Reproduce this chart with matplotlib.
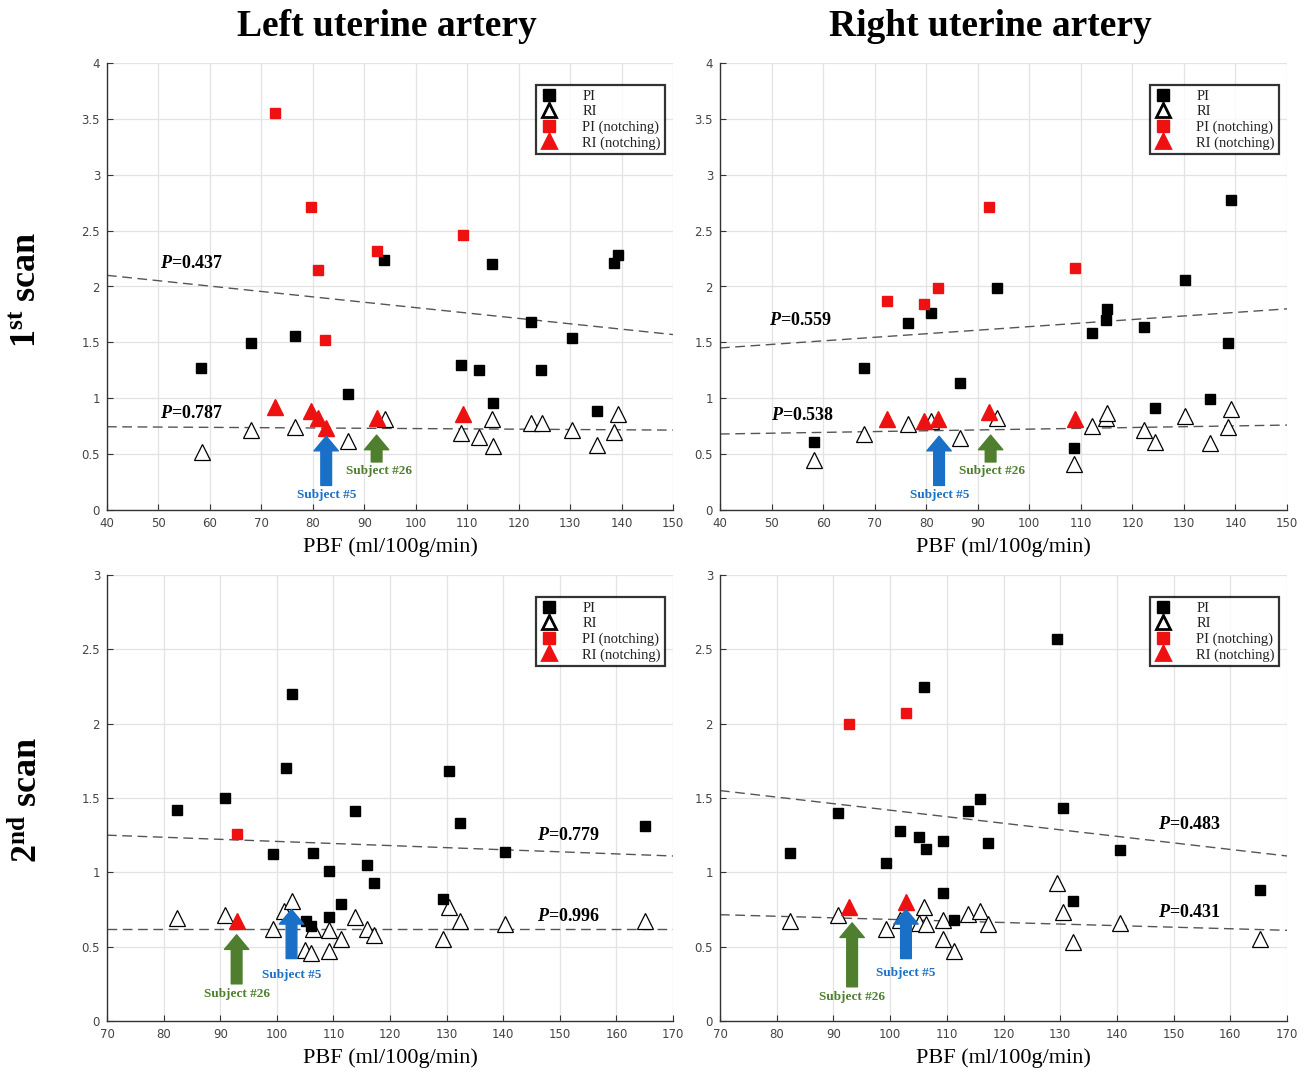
import numpy as np
import matplotlib

matplotlib.use("Agg")
import matplotlib.pyplot as plt

plt.rcParams["mathtext.fontset"] = "custom"
plt.rcParams["mathtext.it"] = "Liberation Serif:italic:bold"
plt.rcParams["mathtext.rm"] = "Liberation Serif:bold"

SERIF = "Liberation Serif"

# ── Data ─────────────────────────────────────────────────────────────────────

# 1st scan, left uterine artery
TL_PI_X = [58.3, 67.9, 76.6, 86.8, 93.8, 108.8, 112.3, 114.9, 115.1, 122.4, 124.4, 130.3, 135.2, 138.6, 139.4]
TL_PI_Y = [1.27, 1.49, 1.56, 1.04, 2.24, 1.30, 1.25, 2.20, 0.96, 1.68, 1.25, 1.54, 0.89, 2.21, 2.28]
TL_RI_X = [58.4, 67.9, 76.6, 86.8, 94.0, 108.8, 112.3, 114.9, 115.1, 122.4, 124.6, 130.3, 135.2, 138.6, 139.4]
TL_RI_Y = [0.52, 0.72, 0.74, 0.62, 0.81, 0.69, 0.65, 0.81, 0.57, 0.78, 0.78, 0.72, 0.58, 0.70, 0.86]
TL_PIN_X = [72.6, 79.6, 81.0, 82.4, 92.4, 109.1]
TL_PIN_Y = [3.55, 2.71, 2.15, 1.52, 2.32, 2.46]
TL_RIN_X = [72.6, 79.6, 81.0, 82.5, 92.4, 109.1]
TL_RIN_Y = [0.92, 0.89, 0.82, 0.73, 0.82, 0.86]
TL_PI_FIT = [2.10, 1.57]
TL_RI_FIT = [0.745, 0.715]
TL_P = ["0.437", "0.787"]

# 1st scan, right uterine artery
TR_PI_X = [58.2, 67.9, 76.5, 80.9, 86.6, 93.8, 108.7, 112.2, 114.8, 115.1, 122.3, 124.3, 130.2, 135.0, 138.6, 139.1]
TR_PI_Y = [0.61, 1.27, 1.67, 1.76, 1.14, 1.99, 0.555, 1.58, 1.70, 1.80, 1.64, 0.91, 2.06, 0.99, 1.49, 2.77]
TR_RI_X = [58.2, 67.9, 76.5, 80.9, 86.6, 93.8, 108.7, 112.2, 114.8, 115.1, 122.3, 124.3, 130.2, 135.0, 138.6, 139.1]
TR_RI_Y = [0.45, 0.68, 0.77, 0.80, 0.64, 0.82, 0.41, 0.75, 0.82, 0.87, 0.72, 0.61, 0.84, 0.60, 0.74, 0.90]
TR_PIN_X = [72.4, 79.5, 82.3, 92.1, 108.9]
TR_PIN_Y = [1.87, 1.84, 1.99, 2.71, 2.17]
TR_RIN_X = [72.4, 79.5, 82.3, 92.1, 108.9]
TR_RIN_Y = [0.81, 0.80, 0.81, 0.88, 0.81]
TR_PI_FIT = [1.45, 1.80]
TR_RI_FIT = [0.68, 0.76]
TR_P = ["0.559", "0.538"]

# 2nd scan, left uterine artery
BL_PI_X = [82.4, 90.8, 99.3, 101.7, 102.7, 105.2, 106.1, 106.4, 109.2, 109.2, 111.3, 113.8, 115.9, 117.1, 129.4, 130.5, 132.3, 140.4, 165.0]
BL_PI_Y = [1.42, 1.50, 1.12, 1.70, 2.20, 0.67, 0.64, 1.13, 1.01, 0.70, 0.79, 1.41, 1.05, 0.93, 0.82, 1.68, 1.33, 1.14, 1.31]
BL_RI_X = [82.4, 90.8, 99.3, 101.3, 102.7, 105.0, 106.0, 106.4, 109.2, 109.2, 111.3, 113.8, 115.9, 117.1, 129.4, 130.5, 132.3, 140.4, 165.0]
BL_RI_Y = [0.69, 0.71, 0.62, 0.74, 0.81, 0.48, 0.46, 0.62, 0.61, 0.47, 0.55, 0.70, 0.62, 0.58, 0.55, 0.77, 0.67, 0.65, 0.67]
BL_PIN_X = [92.9]
BL_PIN_Y = [1.26]
BL_RIN_X = [92.9]
BL_RIN_Y = [0.67]
BL_PI_FIT = [1.25, 1.11]
BL_RI_FIT = [0.62, 0.62]
BL_P = ["0.779", "0.996"]

# 2nd scan, right uterine artery
BR_PI_X = [82.4, 90.8, 99.3, 101.7, 105.1, 106.0, 106.4, 109.4, 109.4, 111.3, 113.8, 115.9, 117.2, 129.4, 130.5, 132.3, 140.5, 165.2]
BR_PI_Y = [1.13, 1.40, 1.06, 1.28, 1.24, 2.25, 1.16, 1.21, 0.86, 0.68, 1.41, 1.49, 1.20, 2.57, 1.43, 0.81, 1.15, 0.88]
BR_RI_X = [82.4, 90.8, 99.2, 101.7, 105.1, 106.0, 106.4, 109.3, 109.4, 111.3, 113.8, 115.9, 117.2, 129.4, 130.5, 132.3, 140.5, 165.2]
BR_RI_Y = [0.67, 0.71, 0.62, 0.68, 0.66, 0.77, 0.65, 0.55, 0.68, 0.47, 0.72, 0.74, 0.65, 0.93, 0.73, 0.53, 0.66, 0.55]
BR_PIN_X = [92.8, 102.8]
BR_PIN_Y = [2.00, 2.07]
BR_RIN_X = [92.8, 102.8]
BR_RIN_Y = [0.77, 0.80]
BR_PI_FIT = [1.55, 1.11]
BR_RI_FIT = [0.715, 0.61]
BR_P = ["0.483", "0.431"]

TOP_XLIM = (40, 150)
TOP_YLIM = (0, 4)
BOT_XLIM = (70, 170)
BOT_YLIM = (0, 3)

COL_TITLES = ["Left uterine artery", "Right uterine artery"]
ROW_TITLES = [r"1$^{\rm st}$ scan", r"2$^{\rm nd}$ scan"]

BLUE = "#1a6fc6"
GREEN = "#4e7e2e"
RED = "#ee1111"

# ── Figure ────────────────────────────────────────────────────────────────────

fig = plt.figure(figsize=(13.13, 10.72), dpi=100)

W, H = 1313.0, 1072.0
# axes boxes in pixels: left, top, right, bottom
BOXES = {
    "TL": (107, 63, 673, 510),
    "TR": (720, 63, 1287, 510),
    "BL": (107, 575, 673, 1021),
    "BR": (720, 575, 1287, 1021),
}


def make_ax(key):
    l, t, r, b = BOXES[key]
    return fig.add_axes([l / W, 1 - b / H, (r - l) / W, (b - t) / H])


def style_ax(ax, xlim, ylim, xstep, ystep):
    ax.set_xlim(*xlim)
    ax.set_ylim(*ylim)
    ax.set_xticks(np.arange(xlim[0], xlim[1] + 0.1, xstep))
    ax.set_yticks(np.arange(ylim[0], ylim[1] + 0.01, ystep))
    ax.set_yticklabels([f"{v:g}" for v in ax.get_yticks()])
    ax.grid(True, color="#e3e3e3", lw=0.9)
    ax.set_axisbelow(True)
    for s in ("top", "right"):
        ax.spines[s].set_visible(False)
    for s in ("left", "bottom"):
        ax.spines[s].set_color("#333333")
        ax.spines[s].set_linewidth(1.0)
    ax.tick_params(direction="in", length=4, width=0.8, color="#333333",
                   labelcolor="#444444", labelsize=8.5)
    ax.tick_params(axis="x", pad=5)
    ax.tick_params(axis="y", pad=5)
    ax.set_xlabel("PBF (ml/100g/min)", family=SERIF, fontsize=16, labelpad=5)


def draw_panel(ax, pi_x, pi_y, ri_x, ri_y, pin_x, pin_y, rin_x, rin_y,
               pi_fit, ri_fit, xlim):
    dash = dict(color="#555555", lw=1.0, dashes=(7, 4), zorder=2)
    ax.plot(xlim, pi_fit, **dash)
    ax.plot(xlim, ri_fit, **dash)
    ax.plot(pi_x, pi_y, ls="none", marker="s", ms=7.5, color="black",
            label="PI", zorder=4)
    ax.plot(ri_x, ri_y, ls="none", marker="^", ms=11, mfc="white",
            mec="black", mew=0.9, label="RI", zorder=3)
    ax.plot(pin_x, pin_y, ls="none", marker="s", ms=7.5, color=RED,
            label="PI (notching)", zorder=5)
    ax.plot(rin_x, rin_y, ls="none", marker="^", ms=11, color=RED,
            label="RI (notching)", zorder=5)
    leg = ax.legend(loc="upper right", bbox_to_anchor=(0.986, 0.95),
                    prop=dict(family=SERIF, size=10.5), frameon=True,
                    fancybox=False, handlelength=1.3, handletextpad=1.6,
                    borderpad=0.3, labelspacing=0.15, borderaxespad=0,
                    markerscale=1.05)
    for h in leg.legend_handles:
        if h.get_marker() == "^":
            h.set_markersize(9.5)
            h.set_markeredgewidth(2.0)
        else:
            h.set_markersize(9)
    for t in leg.get_texts():
        t.set_color("#222222")
    leg.get_frame().set_edgecolor("black")
    leg.get_frame().set_linewidth(1.6)
    leg.set_zorder(10)


def p_label(ax, x, y, value):
    ax.text(x, y, r"$P$=" + value, family=SERIF, fontweight="bold",
            fontsize=13, ha="left", va="center", zorder=6)


def subject_arrow(ax, x, y0, y1, text, tx, ty, color):
    ax.annotate("", xy=(x, y1), xytext=(x, y0),
                arrowprops=dict(arrowstyle="simple,head_length=0.75,head_width=1.25,tail_width=0.55",
                                color=color, shrinkA=0, shrinkB=0,
                                mutation_scale=14),
                zorder=6)
    ax.text(tx, ty, text, color=color, family=SERIF, fontweight="bold",
            fontsize=9.5, ha="center", va="center", zorder=6)


# top-left
ax = make_ax("TL")
style_ax(ax, TOP_XLIM, TOP_YLIM, 10, 0.5)
draw_panel(ax, TL_PI_X, TL_PI_Y, TL_RI_X, TL_RI_Y, TL_PIN_X, TL_PIN_Y,
           TL_RIN_X, TL_RIN_Y, TL_PI_FIT, TL_RI_FIT, TOP_XLIM)
p_label(ax, 50.3, 2.21, TL_P[0])
p_label(ax, 50.3, 0.86, TL_P[1])
subject_arrow(ax, 82.6, 0.22, 0.66, "Subject #5", 82.6, 0.13, BLUE)
subject_arrow(ax, 92.4, 0.43, 0.67, "Subject #26", 92.9, 0.35, GREEN)

# top-right
ax = make_ax("TR")
style_ax(ax, TOP_XLIM, TOP_YLIM, 10, 0.5)
draw_panel(ax, TR_PI_X, TR_PI_Y, TR_RI_X, TR_RI_Y, TR_PIN_X, TR_PIN_Y,
           TR_RIN_X, TR_RIN_Y, TR_PI_FIT, TR_RI_FIT, TOP_XLIM)
p_label(ax, 49.6, 1.70, TR_P[0])
p_label(ax, 49.8, 0.85, TR_P[1])
subject_arrow(ax, 82.5, 0.22, 0.66, "Subject #5", 82.6, 0.13, BLUE)
subject_arrow(ax, 92.5, 0.43, 0.67, "Subject #26", 92.8, 0.35, GREEN)

# bottom-left
ax = make_ax("BL")
style_ax(ax, BOT_XLIM, BOT_YLIM, 10, 0.5)
draw_panel(ax, BL_PI_X, BL_PI_Y, BL_RI_X, BL_RI_Y, BL_PIN_X, BL_PIN_Y,
           BL_RIN_X, BL_RIN_Y, BL_PI_FIT, BL_RI_FIT, BOT_XLIM)
p_label(ax, 145.9, 1.25, BL_P[0])
p_label(ax, 145.9, 0.705, BL_P[1])
subject_arrow(ax, 92.9, 0.25, 0.58, "Subject #26", 92.9, 0.18, GREEN)
subject_arrow(ax, 102.6, 0.42, 0.75, "Subject #5", 102.6, 0.31, BLUE)

# bottom-right
ax = make_ax("BR")
style_ax(ax, BOT_XLIM, BOT_YLIM, 10, 0.5)
draw_panel(ax, BR_PI_X, BR_PI_Y, BR_RI_X, BR_RI_Y, BR_PIN_X, BR_PIN_Y,
           BR_RIN_X, BR_RIN_Y, BR_PI_FIT, BR_RI_FIT, BOT_XLIM)
p_label(ax, 147.2, 1.32, BR_P[0])
p_label(ax, 147.2, 0.73, BR_P[1])
subject_arrow(ax, 93.3, 0.23, 0.66, "Subject #26", 93.3, 0.16, GREEN)
subject_arrow(ax, 102.8, 0.42, 0.75, "Subject #5", 102.8, 0.325, BLUE)

# column and row headings
fig.text(387 / W, 1 - 26 / H, COL_TITLES[0], family=SERIF, fontweight="bold",
         fontsize=27, ha="center", va="center")
fig.text(990 / W, 1 - 26 / H, COL_TITLES[1], family=SERIF, fontweight="bold",
         fontsize=27, ha="center", va="center")
fig.text(28 / W, 1 - 290 / H, ROW_TITLES[0], family=SERIF, fontweight="bold",
         fontsize=26, ha="center", va="center", rotation=90)
fig.text(28 / W, 1 - 800 / H, ROW_TITLES[1], family=SERIF, fontweight="bold",
         fontsize=26, ha="center", va="center", rotation=90)

fig.savefig("out.png", dpi=100)
